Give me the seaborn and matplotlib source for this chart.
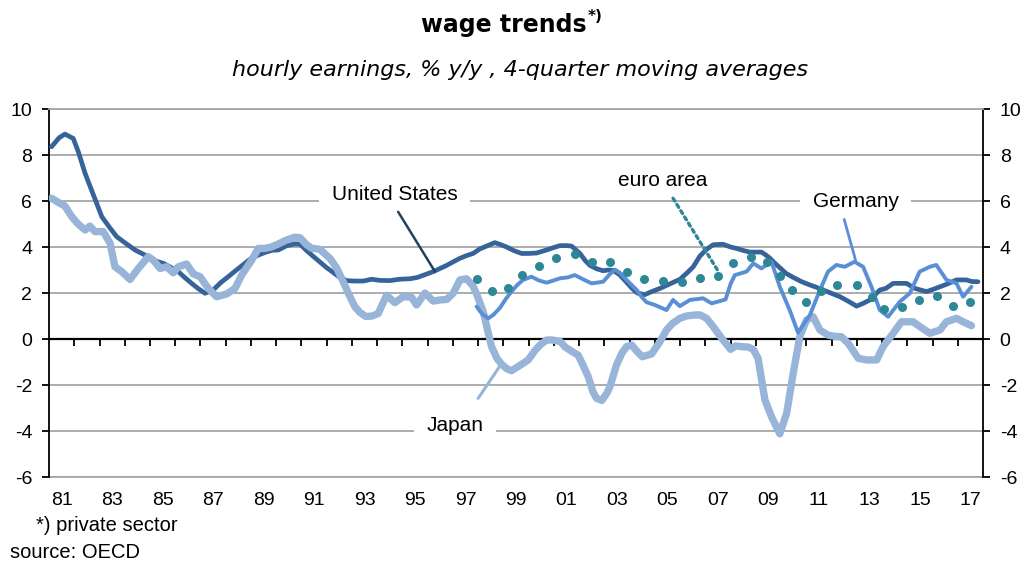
import matplotlib
matplotlib.use("Agg")
import matplotlib.pyplot as plt
import seaborn as sns

# hourly earnings, % y/y, 4-quarter moving averages
us_t = [1981.1, 1981.4, 1981.63, 1981.96, 1982.16, 1982.43, 1982.76, 1983.09, 1983.4, 1983.68,
        1984.05, 1984.41, 1984.8, 1985.2, 1985.53, 1985.85, 1986.12, 1986.4, 1986.65, 1986.9,
        1987.18, 1987.5, 1987.8, 1988.1, 1988.4, 1988.76, 1989.0, 1989.29, 1989.6, 1989.85,
        1990.08, 1990.4, 1990.74, 1990.95, 1991.2, 1991.46, 1991.73, 1992.0, 1992.25, 1992.52,
        1992.79, 1993.1, 1993.45, 1993.78, 1994.1, 1994.5, 1994.9, 1995.3, 1995.6, 1995.9,
        1996.22, 1996.5, 1996.75, 1997.0, 1997.28, 1997.55, 1997.8, 1998.07, 1998.35, 1998.66,
        1998.9, 1999.13, 1999.4, 1999.72, 2000.0, 2000.31, 2000.71, 2001.0, 2001.24, 2001.5,
        2001.7, 2002.03, 2002.25, 2002.43, 2002.7, 2002.95, 2003.15, 2003.35, 2003.6, 2003.85,
        2004.1, 2004.3, 2004.6, 2004.85, 2005.2, 2005.6, 2006.0, 2006.3, 2006.52, 2006.78,
        2007.05, 2007.31, 2007.7, 2008.0, 2008.23, 2008.5, 2008.76, 2009.0, 2009.22, 2009.4,
        2009.55, 2009.75, 2009.95, 2010.2, 2010.48, 2010.8, 2011.14, 2011.4, 2011.67, 2012.0,
        2012.33, 2012.65, 2012.99, 2013.25, 2013.52, 2013.91, 2014.15, 2014.44, 2014.7, 2014.97,
        2015.3, 2015.76, 2016.0, 2016.29, 2016.6, 2016.95, 2017.34, 2017.55, 2017.8]
us_v = [8.36, 8.75, 8.91, 8.72, 8.14, 7.2, 6.26, 5.32, 4.85, 4.45,
        4.15, 3.87, 3.65, 3.4, 3.29, 3.1, 2.93, 2.65, 2.42, 2.2,
        1.99, 2.13, 2.45, 2.71, 2.98, 3.29, 3.5, 3.65, 3.78, 3.86,
        3.87, 4.05, 4.14, 4.12, 3.85, 3.6, 3.35, 3.1, 2.9, 2.68,
        2.54, 2.52, 2.52, 2.6, 2.55, 2.54, 2.6, 2.62, 2.68, 2.8,
        2.93, 3.07, 3.2, 3.35, 3.51, 3.63, 3.72, 3.92, 4.05, 4.19,
        4.1, 4.0, 3.85, 3.72, 3.72, 3.74, 3.87, 3.98, 4.06, 4.06,
        4.04, 3.72, 3.4, 3.2, 3.05, 2.97, 3.0, 2.98, 2.8, 2.5,
        2.2, 2.0, 1.93, 2.05, 2.2, 2.4, 2.6, 2.9, 3.14, 3.6,
        3.9, 4.1, 4.12, 4.0, 3.94, 3.85, 3.78, 3.78, 3.78, 3.65,
        3.52, 3.3, 3.1, 2.85, 2.68, 2.5, 2.35, 2.25, 2.13, 1.98,
        1.84, 1.65, 1.43, 1.55, 1.7, 2.13, 2.2, 2.42, 2.42, 2.42,
        2.2, 2.06, 2.15, 2.27, 2.4, 2.57, 2.57, 2.5, 2.49]

jp_t = [1981.1, 1981.35, 1981.63, 1981.9, 1982.15, 1982.43, 1982.62, 1982.82, 1983.15, 1983.42,
        1983.61, 1983.88, 1984.21, 1984.54, 1984.93, 1985.13, 1985.4, 1985.66, 1985.92, 1986.12,
        1986.45, 1986.72, 1986.98, 1987.31, 1987.64, 1988.04, 1988.37, 1988.63, 1989.03, 1989.29,
        1989.55, 1989.8, 1990.08, 1990.4, 1990.74, 1990.95, 1991.2, 1991.4, 1991.73, 1992.13,
        1992.39, 1992.65, 1992.92, 1993.12, 1993.32, 1993.55, 1993.8, 1994.04, 1994.37, 1994.7,
        1995.03, 1995.36, 1995.56, 1995.89, 1996.22, 1996.5, 1996.75, 1997.01, 1997.28, 1997.54,
        1997.8, 1997.94, 1998.2, 1998.53, 1998.75, 1998.93, 1999.15, 1999.32, 1999.65, 1999.98,
        2000.25, 2000.45, 2000.7, 2000.91, 2001.24, 2001.45, 2001.63, 2001.96, 2002.16, 2002.36,
        2002.55, 2002.69, 2002.9, 2003.1, 2003.22, 2003.48, 2003.7, 2003.88, 2004.08, 2004.3,
        2004.5, 2004.87, 2005.2, 2005.46, 2005.7, 2005.99, 2006.25, 2006.52, 2006.78, 2007.05,
        2007.31, 2007.6, 2008.0, 2008.2, 2008.43, 2008.7, 2008.9, 2009.09, 2009.36, 2009.62,
        2009.95, 2010.22, 2010.48, 2010.74, 2011.01, 2011.27, 2011.54, 2011.86, 2012.1, 2012.39,
        2012.66, 2013.06, 2013.39, 2013.79, 2014.04, 2014.44, 2014.77, 2015.23, 2015.55, 2015.89,
        2016.29, 2016.55, 2016.95, 2017.21, 2017.54]
jp_v = [6.12, 5.95, 5.78, 5.32, 5.0, 4.74, 4.91, 4.67, 4.67, 4.16,
        3.14, 2.93, 2.59, 3.07, 3.58, 3.43, 3.07, 3.14, 2.88, 3.14,
        3.26, 2.83, 2.71, 2.2, 1.84, 1.96, 2.2, 2.78, 3.43, 3.94,
        3.94, 4.0, 4.13, 4.3, 4.43, 4.4, 4.1, 3.95, 3.9, 3.5,
        3.1, 2.5, 1.84, 1.4, 1.15, 0.98, 1.0, 1.11, 1.9, 1.58,
        1.84, 1.82, 1.48, 2.0, 1.65, 1.7, 1.72, 1.99, 2.57, 2.62,
        2.3, 1.95, 1.19, -0.33, -0.85, -1.1, -1.3, -1.38, -1.15, -0.91,
        -0.5, -0.26, -0.05, -0.04, -0.1, -0.35, -0.48, -0.7, -1.15, -1.64,
        -2.3, -2.58, -2.67, -2.35, -2.07, -1.13, -0.6, -0.33, -0.26, -0.55,
        -0.77, -0.65, -0.12, 0.39, 0.68, 0.9, 1.0, 1.04, 1.05, 0.9,
        0.54, 0.1, -0.45, -0.3, -0.33, -0.35, -0.45, -0.85, -2.65, -3.38,
        -4.12, -3.23, -1.49, 0.1, 0.83, 0.97, 0.39, 0.17, 0.12, 0.1,
        -0.19, -0.84, -0.91, -0.91, -0.33, 0.25, 0.75, 0.75, 0.5, 0.25,
        0.39, 0.75, 0.9, 0.75, 0.58]

de_t = [1997.94, 1998.15, 1998.4, 1998.6, 1998.86, 1999.1, 1999.32, 1999.55, 1999.78, 2000.11,
        2000.4, 2000.71, 2001.0, 2001.24, 2001.55, 2001.83, 2002.15, 2002.49, 2002.95, 2003.2,
        2003.42, 2003.65, 2003.88, 2004.28, 2004.5, 2004.67, 2005.0, 2005.46, 2005.72, 2005.99,
        2006.39, 2006.91, 2007.25, 2007.8, 2008.0, 2008.17, 2008.63, 2008.9, 2009.22, 2009.62,
        2009.95, 2010.34, 2010.67, 2011.14, 2011.54, 2011.86, 2012.19, 2012.52, 2012.91, 2013.25,
        2013.58, 2013.91, 2014.24, 2014.7, 2015.1, 2015.49, 2015.89, 2016.15, 2016.55, 2016.95,
        2017.21, 2017.54]
de_v = [1.41, 1.1, 0.9, 1.05, 1.35, 1.75, 2.06, 2.35, 2.57, 2.71,
        2.55, 2.45, 2.55, 2.64, 2.68, 2.78, 2.6, 2.42, 2.49, 2.8,
        3.02, 2.85, 2.57, 2.13, 1.8, 1.6, 1.48, 1.26, 1.7, 1.43,
        1.7, 1.77, 1.55, 1.72, 2.4, 2.78, 2.93, 3.29, 3.07, 3.36,
        2.27, 1.26, 0.28, 1.04, 2.13, 2.93, 3.22, 3.14, 3.36, 3.14,
        2.27, 1.26, 0.97, 1.62, 1.99, 2.93, 3.14, 3.22, 2.57, 2.42,
        1.84, 2.27]

ea_t = [1997.94, 1998.53, 1999.19, 1999.72, 2000.4, 2001.1, 2001.83, 2002.49, 2003.24, 2003.88,
        2004.58, 2005.33, 2006.06, 2006.78, 2007.51, 2008.1, 2008.79, 2009.46, 2009.95, 2010.45,
        2010.98, 2011.6, 2012.22, 2012.99, 2013.6, 2014.08, 2014.8, 2015.47, 2016.18, 2016.82,
        2017.5]
ea_v = [2.61, 2.1, 2.2, 2.78, 3.17, 3.54, 3.68, 3.33, 3.33, 2.93,
        2.59, 2.52, 2.49, 2.64, 2.75, 3.29, 3.58, 3.36, 2.74, 2.13,
        1.62, 2.1, 2.35, 2.35, 1.84, 1.29, 1.38, 1.7, 1.87, 1.43,
        1.62]

year_labels = ["81", "83", "85", "87", "89", "91", "93", "95", "97", "99",
               "01", "03", "05", "07", "09", "11", "13", "15", "17"]
label_years = list(range(1981, 2018, 2))

c_us = "#36649a"
c_jp = "#98b5d9"
c_de = "#5a8fd6"
c_ea = "#2e8797"
c_grid = "#a6a6a6"

sns.set_style("white")
plt.rcParams["font.family"] = ["Liberation Sans", "DejaVu Sans"]
plt.rcParams["text.color"] = "black"
plt.rcParams["xtick.color"] = "black"
plt.rcParams["ytick.color"] = "black"
plt.rcParams["axes.unicode_minus"] = False

fig = plt.figure(figsize=(10.3, 5.66), dpi=100)
ax = fig.add_axes([0.0476, 0.1572, 0.9068, 0.6502])

sns.lineplot(x=us_t, y=us_v, ax=ax, color=c_us, lw=3.4, zorder=3)
sns.lineplot(x=jp_t, y=jp_v, ax=ax, color=c_jp, lw=5.3, zorder=3)
sns.lineplot(x=de_t, y=de_v, ax=ax, color=c_de, lw=2.8, zorder=3)
sns.lineplot(x=ea_t, y=ea_v, ax=ax, color=c_ea, linestyle="none",
             marker="o", markersize=6.5, markeredgewidth=0, zorder=4)

ax.set_xlim(1981, 2018)
ax.set_ylim(-6, 10)
ax.set_yticks(range(-6, 11, 2))
ax.set_xlabel("")
ax.set_ylabel("")
ax.yaxis.grid(True, color=c_grid, lw=1.3)
ax.xaxis.grid(False)
ax.set_axisbelow(True)
ax.axhline(-6, color=c_grid, lw=1.3, clip_on=False, zorder=1)

ax.spines["top"].set_color(c_grid)
ax.spines["top"].set_linewidth(1.3)
for s in ["left", "right"]:
    ax.spines[s].set_color("black")
    ax.spines[s].set_linewidth(1.3)
ax.spines["bottom"].set_position(("data", 0))
ax.spines["bottom"].set_color("black")
ax.spines["bottom"].set_linewidth(1.6)

# year ticks sit on the zero line
ax.set_xticks(range(1982, 2018))
ax.tick_params(axis="x", bottom=True, direction="out", length=5, width=1.3,
               color="black", labelbottom=False)
ax.tick_params(axis="y", left=True, right=True, labelleft=True, labelright=True,
               direction="out", length=5, width=1.3, color="black", labelcolor="black",
               pad=7, labelsize=14)

sec = ax.secondary_xaxis("bottom")
sec.set_xticks([y + 0.5 for y in label_years], labels=year_labels)
sec.tick_params(length=0, pad=11, labelsize=14, labelcolor="black")
sec.spines["bottom"].set_visible(False)

box = dict(boxstyle="square,pad=0.6", fc="white", ec="none")
ax.text(1994.7, 6.3, "United States", ha="center", va="center", fontsize=15, bbox=box, zorder=5)
ax.annotate("", xy=(1996.29, 2.93), xytext=(1994.83, 5.53),
            arrowprops=dict(arrowstyle="-", color="#243f60", lw=1.8, shrinkA=0, shrinkB=0), zorder=6)
ax.text(1997.1, -3.74, "Japan", ha="center", va="center", fontsize=15, bbox=box, zorder=5)
ax.annotate("", xy=(1998.93, -1.06), xytext=(1998.0, -2.58),
            arrowprops=dict(arrowstyle="-", color=c_jp, lw=2.2, shrinkA=0, shrinkB=0), zorder=6)
ax.text(2005.3, 6.91, "euro area", ha="center", va="center", fontsize=15, zorder=5)
ax.annotate("", xy=(2007.48, 3.0), xytext=(2005.72, 6.12),
            arrowprops=dict(arrowstyle="-", color=c_ea, lw=2.4, ls=(0, (1, 1.2)),
                            shrinkA=0, shrinkB=0), zorder=6)
ax.text(2012.96, 5.96, "Germany", ha="center", va="center", fontsize=15, bbox=box, zorder=5)
ax.annotate("", xy=(2012.95, 3.43), xytext=(2012.5, 5.2),
            arrowprops=dict(arrowstyle="-", color=c_de, lw=2.0, shrinkA=0, shrinkB=0), zorder=6)

title = fig.text(0.489, 0.956, "wage trends", ha="center", va="center", fontsize=17,
                 fontweight="bold", family="DejaVu Sans")
ax.annotate("*)", xy=(1, 0.55), xycoords=title, xytext=(1, 0), textcoords="offset points",
            ha="left", va="bottom", fontsize=11, fontweight="bold", family="DejaVu Sans")
fig.text(0.505, 0.876, "hourly earnings, % y/y , 4-quarter moving averages", ha="center",
         va="center", fontsize=16, style="italic", family="DejaVu Sans")

fig.text(36 / 1030, 0.072, "*) private sector", ha="left", va="center", fontsize=14.5)
fig.text(10 / 1030, 0.023, "source: OECD", ha="left", va="center", fontsize=14.5)

fig.savefig("out.png", dpi=100)
